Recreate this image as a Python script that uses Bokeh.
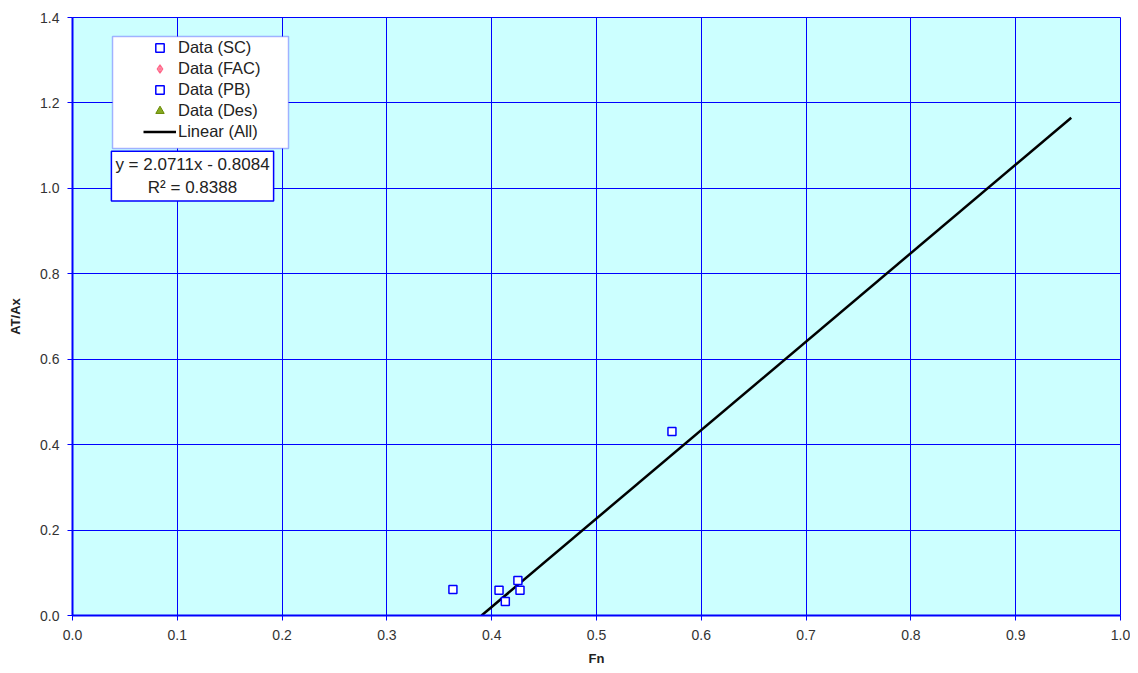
from bokeh.plotting import figure
from bokeh.models import (Range1d, FixedTicker, PrintfTickFormatter, Legend, LegendItem,
                          BoxAnnotation, Label, ColumnDataSource)
from bokeh.embed import file_html
from bokeh.resources import INLINE

# ---- data ----
sc_fn = [0.363, 0.407, 0.413, 0.425, 0.427, 0.572]
sc_at = [0.061, 0.059, 0.033, 0.082, 0.059, 0.431]
fac_fn, fac_at = [], []
pb_fn, pb_at = [], []
des_fn, des_at = [], []
slope = 2.0711
intercept = -0.8084
r2 = 0.8388
fit_x_end = 0.953

x_ticks = [0.0, 0.1, 0.2, 0.3, 0.4, 0.5, 0.6, 0.7, 0.8, 0.9, 1.0]
y_ticks = [0.0, 0.2, 0.4, 0.6, 0.8, 1.0, 1.2, 1.4]

FONT = "Liberation Sans"
BG = "#CCFFFF"
BLUE = "#0000FF"


def src(xs, ys):
    # empty series keep a NaN row so the legend can still draw their marker
    if not xs:
        xs, ys = [float("nan")], [float("nan")]
    return ColumnDataSource(dict(x=xs, y=ys))


p = figure(width=1130, height=670, output_backend="svg", toolbar_location=None,
           x_range=Range1d(0, 1.0), y_range=Range1d(0, 1.4),
           min_border_left=72, min_border_right=10, min_border_top=17, min_border_bottom=55,
           background_fill_color=BG, border_fill_color="white")
p.outline_line_color = BLUE
p.outline_line_width = 1

for ax, tk in ((p.xaxis[0], x_ticks), (p.yaxis[0], y_ticks)):
    ax.ticker = FixedTicker(ticks=tk)
    ax.formatter = PrintfTickFormatter(format="%.1f")
    ax.axis_line_color = BLUE
    ax.axis_line_width = 2
    ax.major_tick_line_color = BLUE
    ax.major_tick_line_width = 1
    ax.major_tick_out = 5
    ax.major_tick_in = 0
    ax.minor_tick_line_color = None
    ax.major_label_text_font = FONT
    ax.major_label_text_font_size = "14px"
    ax.major_label_text_color = "#333333"
    ax.axis_label_text_font = FONT
    ax.axis_label_text_font_size = "13px"
    ax.axis_label_text_font_style = "bold"
    ax.axis_label_text_color = "#222222"

p.xaxis.axis_label = "Fn"
p.yaxis.axis_label = "AT/Ax"
p.xaxis.major_label_standoff = 9
p.yaxis.major_label_standoff = 8
p.xaxis.axis_label_standoff = 8
p.yaxis.axis_label_standoff = 14

for g, tk in ((p.xgrid[0], x_ticks), (p.ygrid[0], y_ticks)):
    g.grid_line_color = BLUE
    g.grid_line_width = 1
    g.ticker = FixedTicker(ticks=tk)

# trend line
x0 = -intercept / slope
fit_x = [x0, fit_x_end]
fit_y = [slope * v + intercept for v in fit_x]
r_lin = p.line(fit_x, fit_y, line_color="black", line_width=2.5)

r_sc = p.scatter("x", "y", source=src(sc_fn, sc_at), marker="square", size=8,
                 line_color=BLUE, line_width=1.5, fill_color="white")
r_fac = p.scatter("x", "y", source=src(fac_fn, fac_at), marker="diamond_cross", size=11,
                  line_color="#FF6688", line_width=1.2, fill_color="#FFD0DD")
r_pb = p.scatter("x", "y", source=src(pb_fn, pb_at), marker="square", size=8,
                 line_color=BLUE, line_width=1.5, fill_color="white")
r_des = p.scatter("x", "y", source=src(des_fn, des_at), marker="triangle", size=8,
                  line_color="#668800", fill_color="#88AA22")

# legend box
box = BoxAnnotation(left=0.0382, right=0.2061, top=1.3556, bottom=1.0934,
                    fill_color="white", fill_alpha=1, line_color=BLUE, line_width=1.5)
p.add_layout(box)

legend = Legend(items=[
    LegendItem(label="Data (SC)", renderers=[r_sc]),
    LegendItem(label="Data (FAC)", renderers=[r_fac]),
    LegendItem(label="Data (PB)", renderers=[r_pb]),
    LegendItem(label="Data (Des)", renderers=[r_des]),
    LegendItem(label="Linear (All)", renderers=[r_lin]),
], location=(71, 473), padding=0, spacing=0, glyph_width=33, glyph_height=21,
   label_height=21, label_standoff=2, border_line_alpha=0, background_fill_alpha=0,
   label_text_font=FONT, label_text_font_size="16.5px", label_text_color="#222222", margin=0)
p.add_layout(legend)

eq = Label(x=0.1145, y=1.087, text="y = %.4fx - %.4f\nR² = %.4f" % (slope, -intercept, r2),
           text_align="center", text_baseline="top", text_font=FONT, text_font_size="17px",
           text_color="#222222", border_line_color=BLUE, border_line_width=1.5,
           background_fill_color="white", padding=4)
p.add_layout(eq)

open("out.html", "w").write(file_html(p, INLINE))
